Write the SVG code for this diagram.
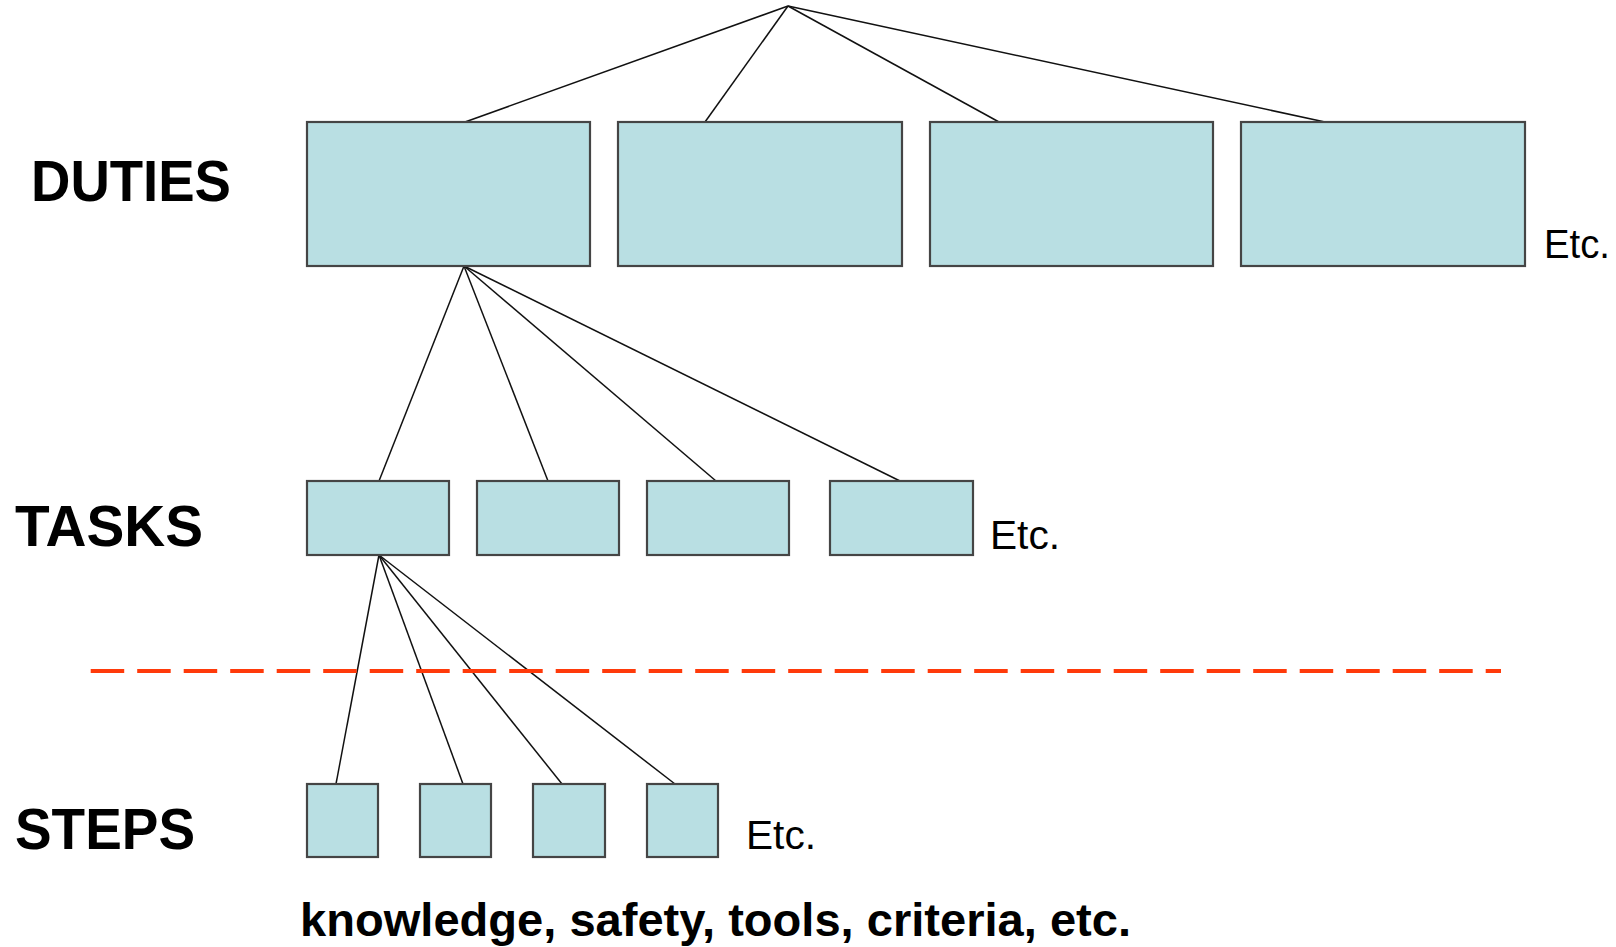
<svg xmlns="http://www.w3.org/2000/svg" width="1616" height="947" viewBox="0 0 1616 947">
  <style>
    .box { fill: #b9dfe3; stroke: #454545; stroke-width: 2.2; }
    .link { stroke: #111; stroke-width: 1.5; fill: none; }
    .level { font-family: "Liberation Sans", Arial, sans-serif; font-weight: bold; font-size: 58px; fill: #000; }
    .etc { font-family: "Liberation Sans", Arial, sans-serif; font-size: 41px; fill: #000; }
    .note { font-family: "Liberation Sans", Arial, sans-serif; font-weight: bold; font-size: 46px; fill: #000; }
    .divider { stroke: #ff3a0a; stroke-width: 4; stroke-dasharray: 33.5 13; fill: none; }
  </style>

  <rect width="1616" height="947" fill="#ffffff"/>

  <!-- level labels -->
  <text class="level" x="31" y="201" textLength="200" lengthAdjust="spacingAndGlyphs">DUTIES</text>
  <text class="level" x="15" y="546" textLength="188" lengthAdjust="spacingAndGlyphs">TASKS</text>
  <text class="level" x="15" y="849" textLength="180" lengthAdjust="spacingAndGlyphs">STEPS</text>

  <!-- connectors -->
  <g id="connectors">
    <line class="link" x1="788" y1="6" x2="465" y2="122"/>
    <line class="link" x1="788" y1="6" x2="705" y2="122"/>
    <line class="link" x1="788" y1="6" x2="999" y2="122"/>
    <line class="link" x1="788" y1="6" x2="1325" y2="122"/>

    <line class="link" x1="464" y1="266" x2="379" y2="481"/>
    <line class="link" x1="464" y1="266" x2="548" y2="481"/>
    <line class="link" x1="464" y1="266" x2="716" y2="481"/>
    <line class="link" x1="464" y1="266" x2="900" y2="481"/>

    <line class="link" x1="379" y1="555" x2="336" y2="784"/>
    <line class="link" x1="379" y1="555" x2="463" y2="784"/>
    <line class="link" x1="379" y1="555" x2="562" y2="784"/>
    <line class="link" x1="379" y1="555" x2="675" y2="784"/>
  </g>

  <!-- duties -->
  <g id="duty-1"><rect class="box" x="307" y="122" width="283" height="144"/></g>
  <g id="duty-2"><rect class="box" x="618" y="122" width="284" height="144"/></g>
  <g id="duty-3"><rect class="box" x="930" y="122" width="283" height="144"/></g>
  <g id="duty-4"><rect class="box" x="1241" y="122" width="284" height="144"/></g>
  <text class="etc" x="1544" y="258" textLength="66" lengthAdjust="spacingAndGlyphs">Etc.</text>

  <!-- tasks -->
  <g id="task-1"><rect class="box" x="307" y="481" width="142" height="74"/></g>
  <g id="task-2"><rect class="box" x="477" y="481" width="142" height="74"/></g>
  <g id="task-3"><rect class="box" x="647" y="481" width="142" height="74"/></g>
  <g id="task-4"><rect class="box" x="830" y="481" width="143" height="74"/></g>
  <text class="etc" x="990" y="549" textLength="70" lengthAdjust="spacingAndGlyphs">Etc.</text>

  <!-- divider -->
  <line class="divider" x1="90.7" y1="671" x2="1501" y2="671"/>

  <!-- steps -->
  <g id="step-1"><rect class="box" x="307" y="784" width="71" height="73"/></g>
  <g id="step-2"><rect class="box" x="420" y="784" width="71" height="73"/></g>
  <g id="step-3"><rect class="box" x="533" y="784" width="72" height="73"/></g>
  <g id="step-4"><rect class="box" x="647" y="784" width="71" height="73"/></g>
  <text class="etc" x="746" y="849" textLength="70" lengthAdjust="spacingAndGlyphs">Etc.</text>

  <text class="note" x="300" y="936" textLength="831" lengthAdjust="spacingAndGlyphs">knowledge, safety, tools, criteria, etc.</text>
</svg>
